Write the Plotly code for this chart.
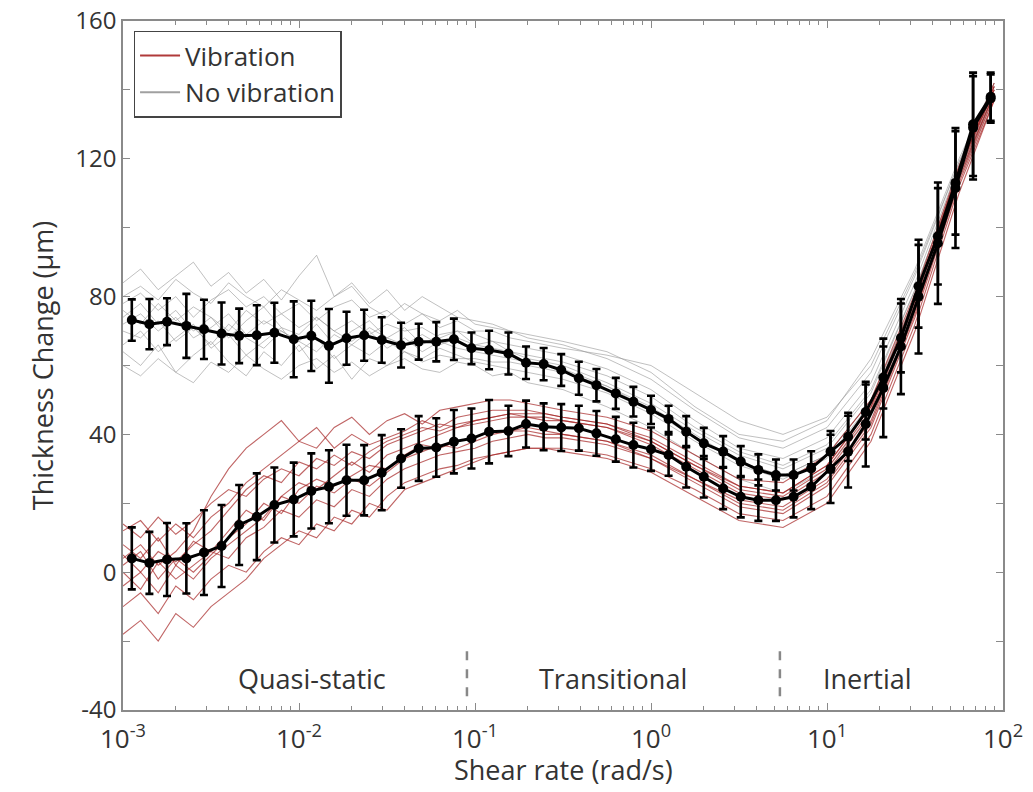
import numpy as np
import plotly.graph_objects as go

# ---- Mean curves (binned) ----
bin_log_shear = [-2.95, -2.85, -2.75, -2.64, -2.54, -2.44, -2.34, -2.24, -2.14, -2.03,
                 -1.93, -1.83, -1.73, -1.63, -1.53, -1.42, -1.32, -1.22, -1.12, -1.02,
                 -0.92, -0.81, -0.71, -0.61, -0.51, -0.41, -0.31, -0.20, -0.10, 0.00,
                 0.10, 0.20, 0.30, 0.41, 0.51, 0.61, 0.71, 0.81, 0.91, 1.02,
                 1.12, 1.22, 1.32, 1.42, 1.52, 1.63, 1.73, 1.83, 1.93]

novib_mean = [73.2, 72.0, 72.7, 71.5, 70.5, 69.3, 68.6, 68.8, 69.5, 67.6,
              68.6, 65.7, 67.9, 68.8, 67.4, 65.9, 66.9, 66.9, 67.6, 65.0,
              64.5, 63.5, 60.8, 60.4, 58.7, 56.3, 54.3, 51.9, 49.5, 47.1,
              44.5, 40.8, 37.4, 35.0, 32.1, 29.7, 28.2, 28.2, 30.1, 35.0,
              39.3, 46.5, 56.5, 68.0, 83.0, 97.5, 113.0, 130.0, 138.0]
novib_err = [6.0, 7.3, 6.8, 9.3, 8.6, 9.0, 7.9, 8.7, 8.7, 11.0,
             10.2, 10.7, 7.7, 7.4, 6.6, 6.5, 5.2, 5.7, 6.0, 4.6,
             5.6, 6.1, 4.7, 4.7, 4.6, 4.8, 4.7, 4.5, 4.3, 4.1,
             3.8, 4.5, 4.5, 4.5, 4.5, 4.5, 4.5, 4.5, 5.0, 6.0,
             7.0, 8.0, 9.0, 10.0, 12.0, 14.0, 15.0, 15.0, 7.0]

vib_mean = [4.0, 2.7, 3.7, 4.0, 5.7, 7.6, 13.7, 16.1, 19.5, 21.1,
            23.6, 24.8, 26.7, 26.7, 28.9, 33.0, 35.9, 36.2, 37.9, 38.8,
            40.8, 41.0, 43.0, 42.2, 42.0, 41.8, 40.3, 38.6, 36.9, 35.7,
            34.0, 30.6, 27.7, 24.3, 21.9, 20.9, 20.9, 21.9, 24.8, 30.0,
            35.0, 43.0, 53.5, 65.5, 80.0, 95.5, 111.5, 129.0, 137.5]
vib_err = [9.0, 9.0, 10.6, 10.2, 12.3, 11.9, 11.6, 12.6, 10.9, 10.7,
           10.9, 10.6, 10.3, 10.2, 10.9, 8.5, 9.4, 8.5, 9.2, 8.7,
           9.2, 7.3, 6.8, 6.8, 6.8, 6.5, 6.5, 6.5, 6.5, 6.3,
           6.0, 6.0, 6.0, 6.0, 6.0, 6.0, 6.0, 6.0, 6.5, 9.9,
           10.4, 12.3, 14.3, 13.8, 16.5, 17.6, 17.4, 15.0, 7.0]

# ---- Individual runs ----
run_log_shear = [-3.0, -2.9, -2.8, -2.7, -2.6, -2.5, -2.4, -2.3, -2.2, -2.1,
                 -2.0, -1.9, -1.8, -1.7, -1.6, -1.5, -1.4, -1.3, -1.2, -1.1,
                 -1.0, -0.9, -0.8, -0.7, -0.6, -0.5,
                 -0.25, 0.0, 0.25, 0.5, 0.75, 1.0, 1.25, 1.5, 1.75, 1.95]

novib_runs = [
    [80, 83, 79, 85, 81, 78, 84, 80, 77, 82, 79, 76, 80, 83, 77, 74, 78, 75, 73, 76, 72, 71, 70, 69, 68, 67, 64, 58, 48, 40, 38, 44, 62, 88, 120, 142],
    [60, 57, 62, 58, 55, 61, 58, 63, 59, 56, 60, 62, 58, 61, 57, 60, 62, 59, 58, 61, 60, 57, 58, 55, 54, 53, 48, 42, 34, 27, 23, 30, 46, 76, 114, 138],
    [72, 75, 70, 74, 68, 71, 75, 69, 73, 70, 67, 72, 66, 70, 73, 68, 71, 66, 69, 70, 66, 67, 64, 62, 61, 60, 55, 49, 41, 34, 30, 36, 52, 82, 117, 140],
    [84, 88, 82, 86, 90, 83, 87, 81, 85, 79, 86, 92, 80, 84, 78, 82, 76, 80, 77, 74, 73, 72, 70, 68, 67, 66, 62, 56, 47, 39, 36, 42, 58, 86, 119, 141],
    [66, 70, 64, 68, 72, 65, 69, 63, 67, 71, 64, 68, 62, 66, 63, 67, 64, 62, 65, 63, 61, 60, 59, 58, 57, 56, 52, 46, 38, 31, 27, 33, 49, 79, 115, 139],
    [76, 72, 78, 73, 77, 74, 70, 76, 72, 75, 71, 74, 70, 73, 69, 72, 70, 71, 68, 70, 69, 67, 66, 65, 64, 63, 59, 53, 44, 36, 33, 39, 55, 84, 118, 141],
    [64, 60, 66, 58, 63, 67, 61, 57, 64, 60, 66, 59, 63, 56, 62, 60, 64, 61, 63, 62, 62, 61, 61, 60, 59, 58, 54, 48, 40, 32, 28, 34, 50, 80, 116, 139],
    [78, 81, 76, 80, 74, 79, 82, 77, 80, 75, 78, 73, 77, 79, 74, 76, 72, 75, 71, 73, 70, 70, 68, 67, 66, 65, 63, 60, 52, 44, 40, 45, 60, 87, 119, 142],
    [70, 68, 73, 67, 71, 66, 72, 68, 65, 70, 67, 64, 69, 66, 70, 65, 68, 64, 67, 65, 64, 63, 62, 61, 60, 59, 54, 47, 39, 32, 28, 34, 50, 79, 115, 139],
    [74, 78, 72, 76, 70, 74, 68, 73, 77, 71, 69, 74, 70, 67, 71, 68, 66, 69, 66, 68, 66, 65, 64, 63, 62, 61, 57, 51, 42, 35, 31, 37, 53, 82, 117, 140],
]

vib_runs = [
    [-18, -14, -20, -12, -16, -10, -6, -2, 4, 8, 12, 10, 16, 14, 20, 18, 24, 26, 28, 30, 32, 34, 35, 36, 36, 35, 33, 29, 22, 15, 13, 20, 38, 70, 110, 137],
    [8, 4, 10, 2, 9, 6, 12, 18, 15, 22, 26, 24, 28, 32, 29, 34, 36, 38, 40, 42, 43, 44, 45, 45, 44, 44, 42, 38, 31, 24, 22, 30, 47, 79, 117, 140],
    [2, 6, -2, 4, 0, 5, 10, 14, 20, 17, 24, 27, 25, 28, 31, 30, 34, 37, 36, 38, 39, 41, 41, 42, 41, 40, 38, 33, 27, 20, 18, 26, 43, 75, 114, 139],
    [12, 15, 9, 14, 10, 16, 20, 26, 30, 34, 38, 36, 42, 45, 40, 44, 46, 43, 47, 48, 49, 50, 50, 49, 48, 47, 45, 41, 34, 27, 26, 34, 50, 81, 118, 142],
    [-4, 0, -6, 2, -2, 4, 8, 12, 16, 22, 20, 25, 23, 27, 25, 29, 33, 35, 37, 36, 38, 40, 41, 41, 40, 40, 38, 34, 27, 21, 19, 27, 44, 76, 115, 139],
    [5, 0, 6, 3, 8, 12, 18, 24, 28, 26, 32, 30, 34, 31, 35, 38, 40, 42, 41, 43, 44, 45, 46, 46, 46, 45, 43, 38, 31, 25, 23, 31, 48, 79, 117, 141],
    [0, -5, 3, -2, 2, 6, 4, 10, 13, 18, 16, 21, 19, 24, 22, 27, 30, 32, 34, 35, 36, 38, 39, 40, 39, 39, 37, 33, 26, 19, 17, 25, 42, 74, 113, 138],
    [14, 10, 16, 11, 15, 20, 24, 22, 27, 30, 28, 33, 31, 35, 33, 37, 39, 41, 43, 42, 44, 45, 46, 45, 45, 44, 42, 37, 30, 23, 21, 29, 46, 78, 116, 140],
    [-10, -6, -12, -4, -8, -2, 2, 0, 6, 10, 8, 14, 12, 18, 16, 22, 26, 28, 30, 31, 33, 34, 35, 36, 36, 36, 34, 30, 24, 17, 15, 22, 40, 72, 112, 137],
    [4, 8, 2, 6, 12, 22, 30, 36, 40, 44, 38, 42, 36, 40, 37, 39, 41, 44, 42, 45, 46, 47, 47, 47, 46, 45, 43, 39, 32, 25, 23, 31, 48, 80, 117, 141],
]

# ---- Regime boundaries and labels ----
regime_bounds = [0.09, 5.4]
regime_bound_y = [-36, -22]
regime_names = ["Quasi-static", "Transitional", "Inertial"]
regime_label_x = [0.0119, 0.61, 17.0]
regime_label_y = -31

legend_names = ["Vibration", "No vibration"]
legend_colors = ["#b03a3a", "#a0a0a0"]

x_title = "Shear rate (rad/s)"
y_title = "Thickness Change (µm)"

x_tickvals = [1e-3, 1e-2, 1e-1, 1e0, 1e1, 1e2]
x_ticktext = ["10<sup>-3</sup>", "10<sup>-2</sup>", "10<sup>-1</sup>",
              "10<sup>0</sup>", "10<sup>1</sup>", "10<sup>2</sup>"]
y_tickvals = [-40, 0, 40, 80, 120, 160]
y_ticktext = ["-40", "0", "40", "80", "120", "160"]

RED = "rgba(165,35,35,0.7)"
GRAY = "rgba(150,150,150,0.6)"
FONT = "Open Sans"
TXT = "#333333"
AX = "#8a8a8a"

bin_x = np.power(10.0, bin_log_shear)
run_x = np.power(10.0, run_log_shear)

fig = go.Figure()

for r in novib_runs:
    fig.add_trace(go.Scatter(x=run_x, y=r, mode="lines",
                             line=dict(color=GRAY, width=1),
                             showlegend=False, hoverinfo="skip"))
for r in vib_runs:
    fig.add_trace(go.Scatter(x=run_x, y=r, mode="lines",
                             line=dict(color=RED, width=1.1),
                             showlegend=False, hoverinfo="skip"))

# legend entries
for nm, c in zip(legend_names, legend_colors):
    fig.add_trace(go.Scatter(x=[None], y=[None], mode="lines",
                             line=dict(color=c, width=2), name=nm))

for m, e in [(novib_mean, novib_err), (vib_mean, vib_err)]:
    fig.add_trace(go.Scatter(x=bin_x, y=m, mode="lines+markers",
                             line=dict(color="black", width=3),
                             marker=dict(color="black", size=10, symbol="circle"),
                             error_y=dict(type="data", array=e, color="black",
                                          thickness=2.6, width=4),
                             showlegend=False))

for b in regime_bounds:
    fig.add_trace(go.Scatter(x=[b, b], y=regime_bound_y, mode="lines",
                             line=dict(color="#888888", width=2.5, dash="dash"),
                             showlegend=False, hoverinfo="skip"))

for name, lx in zip(regime_names, regime_label_x):
    fig.add_annotation(x=np.log10(lx), y=regime_label_y, text=name, showarrow=False,
                       font=dict(family=FONT, size=27, color=TXT),
                       xref="x", yref="y")

# x-axis title placed just under the tick labels
fig.add_annotation(x=0.5, y=-0.086, xref="paper", yref="paper", text=x_title,
                   showarrow=False, xanchor="center", yanchor="middle",
                   font=dict(family=FONT, size=27, color=TXT))

# page body has an 8px default margin: figure is offset by 8px right/down
fig.update_layout(
    width=1017, height=776,
    margin=dict(l=115, r=22, t=13, b=74, autoexpand=False),
    paper_bgcolor="white", plot_bgcolor="white",
    font=dict(family=FONT, size=27, color=TXT),
    legend=dict(x=0.012, y=0.986, xanchor="left", yanchor="top",
                bgcolor="white", bordercolor="#444444", borderwidth=1.5,
                font=dict(family=FONT, size=26, color=TXT),
                tracegroupgap=0, itemwidth=40),
    showlegend=True,
)
fig.update_xaxes(type="log", range=[-3, 2], tickvals=x_tickvals, ticktext=x_ticktext,
                 automargin=False, ticklabeloverflow="allow", ticklabelstandoff=5,
                 showline=True, linecolor=AX, linewidth=1.5, mirror="ticks",
                 ticks="inside", ticklen=7, tickcolor=AX,
                 minor=dict(ticks="inside", ticklen=4, tickcolor=AX, dtick="D1", showgrid=False),
                 showgrid=False, zeroline=False,
                 tickfont=dict(family=FONT, size=26, color=TXT))
fig.update_yaxes(range=[-40, 160], tickvals=y_tickvals, ticktext=y_ticktext,
                 automargin=False, ticklabeloverflow="allow",
                 showline=True, linecolor=AX, linewidth=1.5, mirror="ticks",
                 ticks="inside", ticklen=7, tickcolor=AX,
                 minor=dict(ticks="inside", ticklen=7, tickcolor=AX, dtick=20, showgrid=False),
                 showgrid=False, zeroline=False,
                 title=dict(text=y_title, standoff=14,
                            font=dict(family=FONT, size=27, color=TXT)),
                 tickfont=dict(family=FONT, size=24, color=TXT))

fig.write_html("out.html")
